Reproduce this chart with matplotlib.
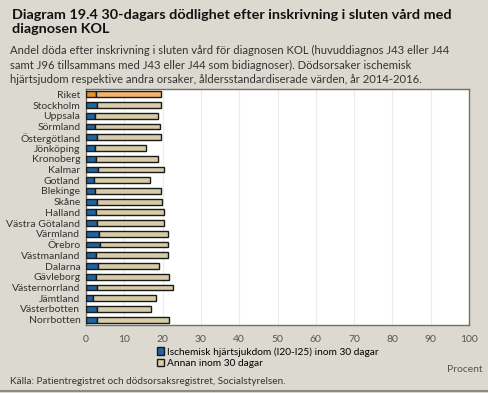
import numpy as np
import matplotlib.pyplot as plt
from matplotlib.patches import Patch

plt.rcParams['font.family'] = ['Lato', 'DejaVu Sans']

# data (percent)
regions = ['Riket', 'Stockholm', 'Uppsala', 'Sörmland', 'Östergötland', 'Jönköping',
           'Kronoberg', 'Kalmar', 'Gotland', 'Blekinge', 'Skåne', 'Halland',
           'Västra Götaland', 'Värmland', 'Örebro', 'Västmanland', 'Dalarna',
           'Gävleborg', 'Västernorrland', 'Jämtland', 'Västerbotten', 'Norrbotten']
ischemic = [2.6, 2.9, 2.4, 2.4, 3.0, 2.4, 2.7, 3.1, 2.2, 2.4, 2.8, 2.7,
            2.8, 3.4, 3.6, 2.6, 3.2, 2.5, 3.0, 1.9, 3.0, 2.8]
total = [19.7, 19.6, 18.8, 19.4, 19.6, 15.6, 18.9, 20.4, 16.6, 19.7, 19.9, 20.3,
         20.3, 21.5, 21.5, 21.5, 19.1, 21.7, 22.7, 18.2, 17.1, 21.8]
other = [t - i for t, i in zip(total, ischemic)]

bg = '#DCDAD0'
blue = '#1F64A0'
tan = '#D8CBA8'
orange_dark = '#E8922E'
orange_light = '#F5B36A'

fig = plt.figure(figsize=(4.88, 3.93), dpi=100, facecolor=bg)
ax = fig.add_axes([86/488, 1 - 325/393, 383/488, 236/393])
ax.set_facecolor('white')

y = np.arange(len(regions))
c1 = [orange_dark if r == 'Riket' else blue for r in regions]
c2 = [orange_light if r == 'Riket' else tan for r in regions]
ax.barh(y, ischemic, height=0.55, color=c1, edgecolor='#1a1a1a', linewidth=1.0, zorder=3)
ax.barh(y, other, left=ischemic, height=0.55, color=c2, edgecolor='#1a1a1a', linewidth=1.0, zorder=3)

ax.set_xlim(0, 100)
ax.set_ylim(len(regions) - 0.5, -0.5)
ax.set_xticks(range(0, 101, 10))
ax.set_yticks(y)
ax.set_yticklabels(regions, fontsize=7.5, color='#333333')
ax.tick_params(axis='x', length=0, labelsize=7.5, labelcolor='#555555', pad=7)
ax.tick_params(axis='y', length=0, pad=4)
ax.grid(axis='x', color='#EBEBEB', linewidth=0.8, zorder=0)
for s in ax.spines.values():
    s.set_color('#707070')
    s.set_linewidth(1.0)

fig.text(465/488, 1 - 369/393, 'Procent', fontsize=7.5, color='#555555',
         ha='center', va='center')

handles = [Patch(facecolor=blue, edgecolor='#1a1a1a', label='Ischemisk hjärtsjukdom (I20-I25) inom 30 dagar'),
           Patch(facecolor=tan, edgecolor='#1a1a1a', label='Annan inom 30 dagar')]
fig.legend(handles=handles, loc='upper left', bbox_to_anchor=(157/488, 1 - 347/393),
           frameon=False, fontsize=7.3, handlelength=0.7, handleheight=0.7,
           handletextpad=0.3, labelspacing=0.2, borderaxespad=0, borderpad=0)

fig.text(12/488, 1 - 22/393, 'Diagram 19.4 30-dagars dödlighet efter inskrivning i sluten vård med\ndiagnosen KOL',
         fontsize=10.4, fontweight='bold', color='#111111', va='center', linespacing=1.2)
fig.text(10/488, 1 - 65/393,
         'Andel döda efter inskrivning i sluten vård för diagnosen KOL (huvuddiagnos J43 eller J44\n'
         'samt J96 tillsammans med J43 eller J44 som bidiagnoser). Dödsorsaker ischemisk\n'
         'hjärtsjudom respektive andra orsaker, åldersstandardiserade värden, år 2014-2016.',
         fontsize=8.1, color='#333333', va='center', linespacing=1.35)
fig.text(10/488, 1 - 381/393, 'Källa: Patientregistret och dödsorsaksregistret, Socialstyrelsen.',
         fontsize=7.2, color='#333333', va='center')

fig.add_artist(plt.Line2D([0, 1], [1 - 391/393, 1 - 391/393], color='#8a8a8a', linewidth=1.5))

fig.savefig('out.png', dpi=100, facecolor=bg)
